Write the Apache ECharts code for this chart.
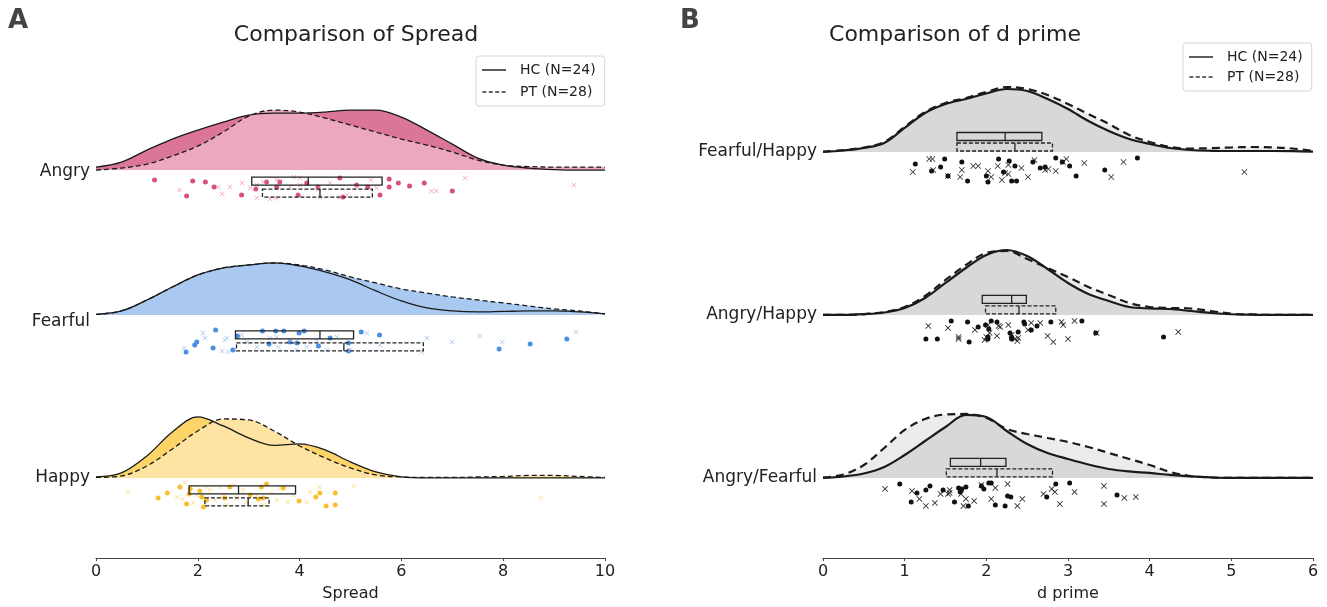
<!DOCTYPE html>
<html>
<head>
<meta charset="utf-8">
<script src="https://cdn.jsdelivr.net/npm/echarts@6/dist/echarts.min.js"></script>
<style>
html, body { margin: 0; padding: 0; background: #fff; }
#main { width: 1327px; height: 607px; }
</style>
</head>
<body>
<div id="main"></div>
<script>
// ---- data ----
var spreadRows = ['Angry', 'Fearful', 'Happy'];
var dprimeRows = ['Fearful/Happy', 'Angry/Happy', 'Angry/Fearful'];

// kde sample points (x) and kde heights (arbitrary height units)
var spreadX = [0, 0.5, 1, 1.5, 2, 2.5, 3, 3.5, 4, 4.5, 5, 5.5, 6, 6.5, 7, 7.5, 8, 8.5, 9, 9.5, 10];
var angryHC   = [3, 8, 20, 31, 40, 48, 55, 57, 57, 58, 60, 60, 53, 40, 26, 12, 5, 2, 0.5, 0, 0];
var angryPT   = [0, 2, 6, 14, 24, 38, 54, 60, 58, 52, 45, 38, 31, 25, 18, 10, 5, 3.5, 3, 3, 3];
var fearfulHC = [0.5, 4, 15, 28, 40, 47, 50, 52, 49, 43, 35, 24, 14, 7, 4, 3, 3.5, 4, 4, 3, 1];
var fearfulPT = [0.5, 4, 15, 28, 40, 47, 50, 52, 50, 45, 38, 32, 26, 22, 18, 15, 12, 9, 6, 4, 1];
var happyHC   = [1, 5, 22, 46, 61, 52, 40, 32.5, 34, 28, 16, 6, 1, 0, 0, 0, 0, 0, 0, 0, 0];
var happyPT   = [0.5, 2, 12, 29, 47, 59, 58, 47, 32, 20, 10, 3, 1, 0.5, 0.5, 1, 1.5, 2.5, 2.5, 1.5, 0.5];

var dprimeX = [0, 0.25, 0.5, 0.75, 1, 1.25, 1.5, 1.75, 2, 2.25, 2.5, 2.75, 3, 3.25, 3.5, 3.75, 4, 4.25, 4.5, 4.75, 5, 5.25, 5.5, 5.75, 6];
var fhHC = [0, 1.5, 4, 9, 24, 39, 48, 53, 58.5, 63, 61, 53, 43, 31, 21, 13, 8, 4, 2, 1.2, 1, 1, 1, 0.8, 0.3];
var fhPT = [0.3, 1.8, 4.5, 10, 25, 40, 49, 54, 60, 65, 63, 57, 48, 38, 28, 17, 10, 5, 3.4, 3.8, 4.5, 5, 4.5, 3.5, 1];
var ahHC = [0, 0, 0.8, 2.5, 7, 17, 32, 47, 60, 65, 59, 46, 32, 21, 14, 8, 6.5, 6, 4, 2, 0.7, 0.3, 0, 0, 0];
var ahPT = [0, 0, 0.8, 3, 8, 19, 35, 50, 62, 64, 56, 47, 38, 28, 20, 12, 8, 7, 6.5, 4, 1.3, 0.5, 0, 0, 0];
var afHC = [0, 1.5, 4.5, 11, 23, 37, 51, 63, 61, 47, 34, 25, 19, 13.5, 9, 6.5, 5, 3, 1.5, 0.5, 0, 0, 0, 0, 0];
var afPT = [0.5, 3.5, 13, 30, 48, 59, 63.5, 64, 60, 49, 44, 40, 36, 31, 25, 19, 13, 6, 2, 0.5, 0, 0, 0, 0, 0];

// box stats [q1, median, q3]
var spreadBoxHC = [[3.06, 4.17, 5.62], [2.74, 4.40, 5.06], [1.83, 2.80, 3.92]];
var spreadBoxPT = [[3.27, 4.40, 5.43], [2.76, 4.87, 6.43], [2.14, 2.99, 3.40]];
var dprimeBoxHC = [[1.64, 2.23, 2.68], [1.95, 2.31, 2.49], [1.56, 1.93, 2.24]];
var dprimeBoxPT = [[1.64, 2.35, 2.81], [1.99, 2.40, 2.85], [1.51, 2.13, 2.81]];

// raw points [value, jitter]
var angryPtsHC = [[1.15,10],[1.90,11],[2.15,12],[2.32,17],[1.78,26],[2.86,25],[3.14,19],[3.61,12],[3.97,25],[4.36,17],[4.79,8],[5.12,15],[5.34,17],[5.58,25],[5.76,9],[5.76,17],[5.94,13],[6.16,16],[6.45,13],[7.0,21],[3.35,12],[3.55,17],[4.85,27],[4.14,13]];
var angryPtsPT = [[1.64,20],[2.48,24],[2.40,17],[2.87,13],[3.16,28],[3.29,12],[3.42,29],[3.54,28],[3.89,7],[4.01,8],[4.01,15],[4.36,19],[4.93,25],[5.40,10],[6.59,21],[6.69,21],[7.25,8],[9.39,15],[3.16,15],[3.55,10],[3.81,17],[4.60,13],[5.12,17],[4.79,27],[3.03,18],[4.40,27],[2.63,17],[5.51,18]];
var fearfulPtsHC = [[2.35,15],[1.77,37],[1.94,30],[1.98,27],[2.30,33],[2.69,35],[3.27,16],[3.53,16],[3.69,16],[3.99,18],[4.09,16],[3.40,29],[3.95,28],[4.37,31],[4.96,28],[4.96,36],[5.21,17],[5.57,20],[7.92,34],[8.53,29],[9.25,24],[2.78,21],[3.81,27],[4.60,23]];
var fearfulPtsPT = [[1.73,33],[2.10,18],[2.14,23],[2.53,25],[2.57,23],[2.48,36],[2.60,37],[3.42,23],[3.58,32],[3.81,25],[4.34,25],[4.73,22],[4.99,35],[5.32,18],[6.50,23],[6.99,27],[7.54,21],[7.98,27],[9.43,17],[6.40,37],[5.58,30],[3.94,35],[3.16,32],[2.96,27],[4.14,32],[4.53,35],[3.55,22],[2.86,20]];
var happyPtsHC = [[1.40,15],[1.22,20],[1.65,9],[1.78,26],[1.83,16],[2.04,13],[2.11,29],[2.08,19],[2.53,20],[3.19,21],[3.25,9],[3.35,6],[3.29,20],[3.99,23],[4.32,19],[4.40,15],[4.52,28],[4.70,15],[4.70,27],[1.85,11],[2.17,22],[2.63,9],[3.03,17],[3.68,10]];
var happyPtsPT = [[0.62,14],[1.75,5],[1.70,21],[1.98,17],[2.24,12],[2.44,9],[2.71,7],[2.89,12],[3.16,17],[3.61,10],[3.76,24],[4.14,24],[4.39,9],[5.07,8],[8.74,20],[2.76,20],[2.34,22],[3.45,15],[1.59,19],[3.88,17],[2.96,24],[2.50,17],[2.17,9],[4.20,14],[3.29,27],[1.91,25],[3.55,22],[2.57,27]];
var fhPtsHC = [[1.13,12],[1.33,19],[1.44,15],[1.49,7],[1.53,24],[1.70,10],[1.77,29],[2.00,24],[2.02,30],[2.15,7],[2.28,9],[2.35,14],[2.31,29],[2.37,29],[2.57,10],[2.66,16],[2.72,15],[2.85,6],[3.02,14],[3.10,24],[3.45,18],[3.85,6],[2.21,20],[2.93,10]];
var fhPtsPT = [[1.10,20],[1.30,7],[1.34,7],[1.35,18],[1.53,24],[1.68,25],[1.84,14],[1.90,14],[2.06,25],[2.14,14],[2.27,13],[2.23,21],[2.27,22],[2.76,17],[2.85,19],[2.94,10],[2.98,7],[3.20,11],[3.53,25],[3.68,10],[5.16,20],[2.72,18],[2.43,16],[2.02,19],[1.70,18],[2.51,25],[2.19,28],[2.59,8]];
var ahPtsHC = [[1.57,6],[1.77,7],[1.90,12],[1.99,10],[2.06,6],[2.03,14],[2.46,7],[2.47,9],[2.55,15],[2.62,11],[2.79,7],[3.17,6],[2.29,18],[2.31,22],[2.39,17],[1.26,24],[1.40,24],[1.79,27],[2.02,24],[2.31,24],[3.34,18],[4.17,22],[2.13,7],[2.02,22]];
var ahPtsPT = [[1.29,11],[1.53,13],[1.66,24],[1.98,25],[2.00,22],[2.04,18],[2.13,21],[2.15,11],[2.27,10],[2.35,24],[2.31,20],[2.38,26],[2.55,8],[2.66,8],[2.75,21],[2.82,27],[2.92,7],[2.94,10],[3.00,24],[3.08,6],[3.35,18],[4.35,17],[2.17,12],[1.66,22],[2.02,10],[2.39,23],[1.86,15],[2.51,15]];
var afPtsHC = [[0.94,6],[1.15,15],[1.26,12],[1.31,8],[1.47,12],[1.08,24],[1.61,24],[1.66,10],[1.70,11],[1.75,9],[1.78,28],[1.94,8],[1.97,11],[2.03,5],[2.11,27],[2.23,28],[2.26,18],[2.30,19],[2.74,19],[2.85,6],[3.02,5],[3.60,17],[2.06,5],[1.68,14]];
var afPtsPT = [[0.76,11],[1.09,13],[1.18,21],[1.26,28],[1.37,25],[1.44,16],[1.53,16],[1.55,12],[1.69,16],[1.72,28],[1.75,21],[1.85,23],[1.94,7],[2.06,21],[2.11,10],[2.26,6],[2.44,21],[2.38,28],[2.70,16],[2.80,11],[2.84,14],[2.90,26],[3.08,14],[3.44,8],[3.44,26],[3.69,20],[3.83,19],[1.55,15]];

var xTicksSpread = [0, 10, 2];
var xTicksDprime = [0, 6, 1];

// ---- layout ----
var UNIT = 1 / 163;            // height / jitter units -> row units
var spreadRowY = [1.889, 1, 0];
var spreadLabelY = [1.877, 0.957, 0];
var dprimeRowY = [2, 1, 0];
var HC_NAME = 'HC (N=24)', PT_NAME = 'PT (N=28)';
var CROSS = 'path://M1,0 L5,4 L9,0 L10,1 L6,5 L10,9 L9,10 L5,6 L1,10 L0,9 L4,5 L0,1 Z';
var FONT = 'DejaVu Sans';

var panels = [
  {
    rowY: spreadRowY, x: spreadX,
    kde: [[angryHC, angryPT], [fearfulHC, fearfulPT], [happyHC, happyPT]],
    pts: [[angryPtsHC, angryPtsPT], [fearfulPtsHC, fearfulPtsPT], [happyPtsHC, happyPtsPT]],
    boxHC: spreadBoxHC, boxPT: spreadBoxPT,
    boxTop: [[7, 19], [16, 28], [8, 20]],
    fill: [['#dc7699', '#eca8bf'], ['#a9c9f1', '#a9c9f1'], ['#fcd468', '#fee3a2']],
    dot: [['#d8507f', '#eea2ba'], ['#4a8fe0', '#a3c5f0'], ['#f8c030', '#fbd98e']],
    size: [5, 5],
    lineW: 1.3, dash: [5, 3], ptOnTop: true
  },
  {
    rowY: dprimeRowY, x: dprimeX,
    kde: [[fhHC, fhPT], [ahHC, ahPT], [afHC, afPT]],
    pts: [[fhPtsHC, fhPtsPT], [ahPtsHC, ahPtsPT], [afPtsHC, afPtsPT]],
    boxHC: dprimeBoxHC, boxPT: dprimeBoxPT,
    boxTop: [[-19.5, -9], [-19.5, -9], [-19.5, -9]],
    fill: [['#d8d8d8', '#ececec'], ['#d8d8d8', '#ececec'], ['#d8d8d8', '#ececec']],
    dot: [['#111', '#1a1a1a'], ['#111', '#1a1a1a'], ['#111', '#1a1a1a']],
    size: [5, 6],
    lineW: 2.2, dash: [8, 5], ptOnTop: false
  }
];

function curve(xs, ys, base) {
  return xs.map(function (x, i) { return [x, base + ys[i] * UNIT]; });
}
function rain(pts, base) {
  return pts.map(function (p) { return [p[0], base - p[1] * UNIT]; });
}

var series = [];
panels.forEach(function (p, gi) {
  p.rowY.forEach(function (base, r) {
    for (var k = 0; k < 2; k++) {
      var isPT = k === 1;
      var zArea = p.ptOnTop ? (isPT ? 2 : 1) : (isPT ? 1 : 2);
      var data = curve(p.x, p.kde[r][k], base);
      // filled cloud
      series.push({
        type: 'line', xAxisIndex: gi, yAxisIndex: gi, z: zArea, silent: true,
        data: data, symbol: 'none', smooth: 0.35,
        lineStyle: { width: 0 },
        areaStyle: { color: p.fill[r][k], opacity: 1, origin: base }
      });
      // outline
      series.push({
        type: 'line', xAxisIndex: gi, yAxisIndex: gi, z: 4, silent: true,
        data: data, symbol: 'none', smooth: 0.35,
        lineStyle: { color: '#1a1a1a', width: p.lineW, type: isPT ? p.dash : 'solid' }
      });
      // rain
      series.push({
        type: 'scatter', xAxisIndex: gi, yAxisIndex: gi, z: 5, silent: true,
        data: rain(p.pts[r][k], base),
        symbol: isPT ? CROSS : 'circle', symbolSize: p.size[k],
        itemStyle: { color: p.dot[r][k], opacity: isPT ? 0.9 : 1 }
      });
    }
  });
  // boxes
  [p.boxHC, p.boxPT].forEach(function (boxes, k) {
    series.push({
      type: 'custom', xAxisIndex: gi, yAxisIndex: gi, z: 6, silent: true,
      data: boxes.map(function (b, r) { return [b[0], b[1], b[2], p.rowY[r], r]; }),
      encode: { x: [0, 1, 2], y: 3 },
      renderItem: function (params, api) {
        var r = api.value(4);
        var a = api.coord([api.value(0), api.value(3)]);
        var m = api.coord([api.value(1), api.value(3)]);
        var b = api.coord([api.value(2), api.value(3)]);
        var top = a[1] + p.boxTop[r][k];
        var h = 8;
        return {
          type: 'group',
          children: [
            { type: 'rect', shape: { x: a[0], y: top, width: b[0] - a[0], height: h },
              style: { fill: 'none', stroke: '#222', lineWidth: 1.3, lineDash: k ? [4, 2] : null } },
            { type: 'line', shape: { x1: m[0], y1: top, x2: m[0], y2: top + h },
              style: { stroke: '#222', lineWidth: 1.3 } }
          ]
        };
      }
    });
  });
});

// legend-only series
series.push({ type: 'line', name: HC_NAME, data: [], symbol: 'none', itemStyle: { color: '#333' }, lineStyle: { color: '#333' } });
series.push({ type: 'line', name: PT_NAME, data: [], symbol: 'none', itemStyle: { color: '#333' }, lineStyle: { color: '#333' } });

function xAxis(ticks, gi, name) {
  return {
    type: 'value', gridIndex: gi, min: ticks[0], max: ticks[1], interval: ticks[2],
    name: name, nameLocation: 'middle', nameGap: 28,
    nameTextStyle: { fontSize: 16, color: '#222', fontFamily: FONT },
    axisLine: { onZero: false, lineStyle: { color: '#444', width: 1.2 } },
    axisTick: { length: 3, lineStyle: { color: '#444' } },
    axisLabel: { fontSize: 16, color: '#222', margin: 6, fontFamily: FONT },
    splitLine: { show: false }
  };
}
function yAxis(labelY, names, gi) {
  return {
    type: 'value', gridIndex: gi, min: -0.491, max: 2.687,
    axisLine: { show: false }, axisTick: { show: false }, splitLine: { show: false },
    axisLabel: {
      customValues: labelY, fontSize: 17, color: '#222', margin: 6, fontFamily: FONT,
      formatter: function (v) {
        for (var i = 0; i < labelY.length; i++) {
          if (Math.abs(labelY[i] - v) < 1e-6) return names[i];
        }
        return '';
      }
    }
  };
}

function legend(left, top, gap) {
  return {
    left: left, top: top, orient: 'vertical', selectedMode: false,
    data: [
      { name: HC_NAME, icon: 'path://M0,0 H30 V2 H0 Z' },
      { name: PT_NAME, icon: 'path://M0,0h5v2h-5z M8,0h5v2h-5z M16,0h5v2h-5z M24,0h5v2h-5z' }
    ],
    itemWidth: 30, itemHeight: 1.6, itemGap: gap,
    padding: [7, 9, 7, 6], borderColor: '#d6d6d6', borderWidth: 1, borderRadius: 3,
    itemStyle: { color: '#333' },
    textStyle: { fontSize: 14, color: '#222', fontFamily: FONT, padding: [0, 0, 0, 6] }
  };
}

var option = {
  animation: false,
  backgroundColor: '#fff',
  title: [
    { text: 'Comparison of Spread', left: 351, top: 19, textAlign: 'center',
      textStyle: { fontSize: 22, fontWeight: 'normal', color: '#222', fontFamily: FONT } },
    { text: 'Comparison of d prime', left: 950, top: 19, textAlign: 'center',
      textStyle: { fontSize: 22, fontWeight: 'normal', color: '#222', fontFamily: FONT } }
  ],
  graphic: [
    { type: 'text', left: 8, top: 8, style: { text: 'A', font: 'bold 26px DejaVu Sans', fill: '#444' } },
    { type: 'text', left: 680, top: 8, style: { text: 'B', font: 'bold 26px DejaVu Sans', fill: '#444' } }
  ],
  legend: [legend(476, 56, 8), legend(1183, 43, 6)],
  grid: [
    { left: 96, right: 722, top: 40, bottom: 49 },
    { left: 823, right: 14, top: 40, bottom: 49 }
  ],
  xAxis: [xAxis(xTicksSpread, 0, 'Spread'), xAxis(xTicksDprime, 1, 'd prime')],
  yAxis: [yAxis(spreadLabelY, spreadRows, 0), yAxis(dprimeRowY, dprimeRows, 1)],
  series: series
};

var chart = echarts.init(document.getElementById('main'));
chart.setOption(option);
</script>
</body>
</html>
